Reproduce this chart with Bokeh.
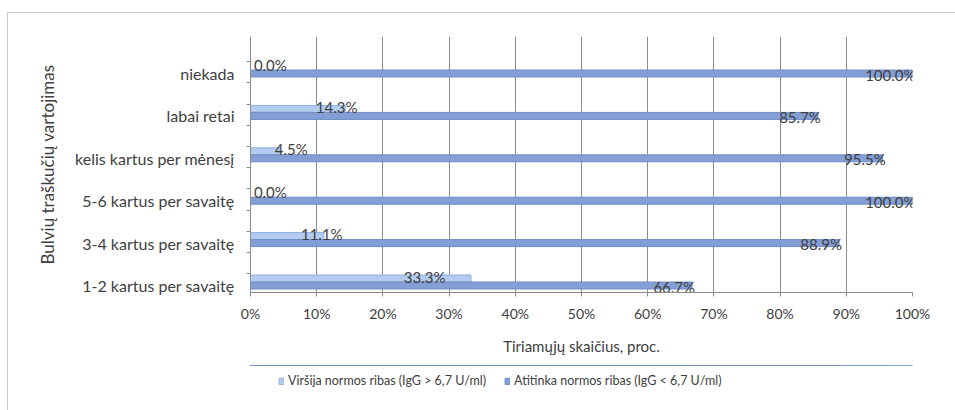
from bokeh.plotting import figure
from bokeh.layouts import column
from bokeh.models import (ColumnDataSource, FixedTicker, Legend, LegendItem,
                          NumeralTickFormatter)
from bokeh.core.properties import value
from bokeh.embed import file_html
from bokeh.resources import INLINE

# Consumption frequency categories, bottom to top
categories = [
    "1-2 kartus per savaitę",
    "3-4 kartus per savaitę",
    "5-6 kartus per savaitę",
    "kelis kartus per mėnesį",
    "labai retai",
    "niekada",
]
# Share of respondents, %
above_norm = [33.3, 11.1, 0.0, 4.5, 14.3, 0.0]
within_norm = [66.7, 88.9, 100.0, 95.5, 85.7, 100.0]

series_names = [
    "Viršija normos ribas (IgG > 6,7 U/ml)",
    "Atitinka normos ribas (IgG < 6,7 U/ml)",
]
x_title = "Tiriamųjų skaičius, proc."
y_title = "Bulvių traškučių vartojimas"
x_ticks = list(range(0, 101, 10))

FONT = "Lato"
TEXT = "#404040"
LIGHT = "#b3cbee"
LIGHT_EDGE = "#8fb0e0"
DARK = "#849fd6"
DARK_EDGE = "#6f8cc6"
GRID = "#8c8c8c"

pos = list(range(len(categories)))
bar_h = 0.165

src = ColumnDataSource(dict(
    y=pos,
    above=above_norm,
    within=within_norm,
    above_lbl=[f"{v:.1f}%" for v in above_norm],
    within_lbl=[f"{v:.1f}%" for v in within_norm],
    above_lx=[0.7 * v + 3.0 for v in above_norm],
    light_y=[p + bar_h for p in pos],
))

p = figure(
    width=947, height=352,
    x_range=(0, 100), y_range=(-0.165, 5.873),
    output_backend="svg", toolbar_location=None,
    min_border_left=242, min_border_right=43,
    min_border_top=23, min_border_bottom=73,
    background_fill_color="white", border_fill_color="white",
)
p.outline_line_color = None

# bars
p.hbar(y="light_y", left=0, right="above", height=bar_h, source=src,
       fill_color=LIGHT, line_color=LIGHT_EDGE, line_width=1)
p.hbar(y="y", left=0, right="within", height=bar_h, source=src,
       fill_color=DARK, line_color=DARK_EDGE, line_width=1)

# value labels
p.text(x="within", y="y", text="within_lbl", source=src,
       text_align="right", text_baseline="middle", x_offset=3, y_offset=1,
       text_font=value(FONT), text_font_size="15px", text_color=TEXT)
p.text(x="above_lx", y="light_y", text="above_lbl", source=src,
       text_align="center", text_baseline="middle", y_offset=-2,
       text_font=value(FONT), text_font_size="15px", text_color=TEXT)

# x axis
p.xaxis.ticker = FixedTicker(ticks=x_ticks)
p.xaxis.formatter = NumeralTickFormatter(format="0")
p.xaxis.major_label_overrides = {t: f"{t}%" for t in x_ticks}
p.xaxis.axis_label = x_title
p.xaxis.axis_line_color = GRID
p.xaxis.major_tick_line_color = GRID
p.xaxis.major_tick_out = 4
p.xaxis.major_tick_in = 0
p.xaxis.minor_tick_line_color = None
p.xaxis.major_label_standoff = 8
p.xaxis.axis_label_standoff = 12

# y axis
minor = []
for i in pos:
    minor += [i - 0.22, i + 0.28]
p.yaxis.ticker = FixedTicker(ticks=pos, minor_ticks=minor)
p.yaxis.major_label_overrides = {i: c for i, c in zip(pos, categories)}
p.yaxis.axis_label = y_title
p.yaxis.axis_line_color = GRID
p.yaxis.major_tick_line_color = None
p.yaxis.minor_tick_line_color = GRID
p.yaxis.minor_tick_out = 4
p.yaxis.minor_tick_in = 0
p.yaxis.major_label_standoff = 10
p.yaxis.axis_label_standoff = 14

for ax in (p.xaxis[0], p.yaxis[0]):
    ax.major_label_text_font = FONT
    ax.major_label_text_color = TEXT
    ax.axis_label_text_font = FONT
    ax.axis_label_text_font_style = "normal"
    ax.axis_label_text_color = TEXT
p.xaxis.major_label_text_font_size = "14px"
p.xaxis.axis_label_text_font_size = "15px"
p.yaxis.major_label_text_font_size = "16px"
p.yaxis.axis_label_text_font_size = "17px"

p.xgrid.ticker = FixedTicker(ticks=x_ticks)
p.xgrid.grid_line_color = GRID
p.xgrid.grid_line_width = 1
p.ygrid.grid_line_color = None

# legend strip under the chart; its keys reuse the series data, kept out of view
lp = figure(
    width=947, height=45, x_range=(0, 100), y_range=(-3, -2),
    output_backend="svg", toolbar_location=None,
    min_border=0, background_fill_color="white", border_fill_color="white",
)
lp.axis.visible = False
lp.grid.grid_line_color = None
lp.outline_line_color = None
k_light = lp.hbar(y="y", left=0, right="above", height=bar_h, source=src,
                  fill_color=LIGHT, line_color=LIGHT_EDGE)
k_dark = lp.hbar(y="y", left=0, right="within", height=bar_h, source=src,
                 fill_color=DARK, line_color=DARK_EDGE)
legend = Legend(
    items=[LegendItem(label=series_names[0], renderers=[k_light]),
           LegendItem(label=series_names[1], renderers=[k_dark])],
    orientation="horizontal", location=(28, 22),
    border_line_color=None, background_fill_alpha=0,
    glyph_width=6, glyph_height=8, label_standoff=4, spacing=18,
    label_text_font=FONT, label_text_font_size="12.5px", label_text_color=TEXT,
    padding=0, margin=0,
)
lp.add_layout(legend)

layout = column(p, lp, spacing=0, styles={
    "margin-left": "7px", "margin-top": "12px",
    "border-left": "1px solid #c9c9c9", "border-top": "1px solid #c9c9c9",
})

open("out.html", "w").write(file_html(layout, INLINE))
